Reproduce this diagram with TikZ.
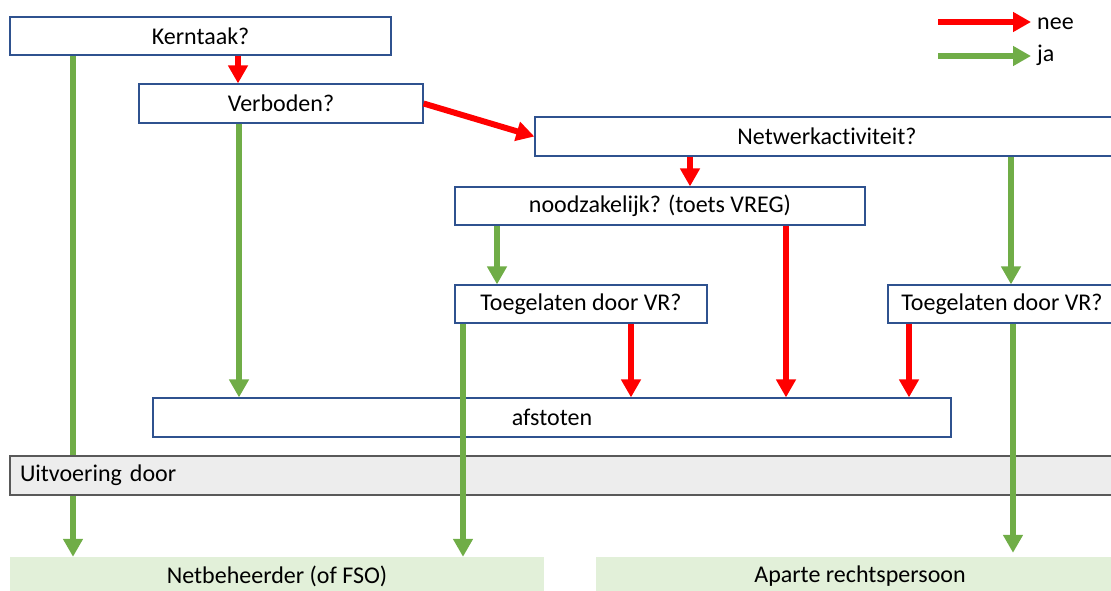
\documentclass[tikz,border=0pt]{standalone}
\usepackage{fontspec}
\setmainfont{Carlito}[Ligatures=NoCommon]
\usetikzlibrary{arrows.meta}
\definecolor{neered}{HTML}{FF0000}
\definecolor{jagreen}{HTML}{70AD47}
\definecolor{boxblue}{HTML}{2F528F}
\definecolor{bargray}{HTML}{EDEDED}
\definecolor{bardraw}{HTML}{595959}
\definecolor{outfill}{HTML}{E2F0D9}

\begin{document}
\begin{tikzpicture}[x=1pt,y=-1pt,
    font=\fontsize{24}{28}\selectfont,
    vraag/.style={draw=boxblue,line width=1.2pt,fill=white,inner sep=0pt},
    uitv/.style={draw=bardraw,line width=1.2pt,fill=bargray,inner sep=0pt},
    uitkomst/.style={fill=outfill,inner sep=0pt},
    nee/.style={neered,line width=6pt,-{Triangle[length=18pt,width=19pt]}},
    ja/.style={jagreen,line width=6pt,-{Triangle[length=18pt,width=19pt]}}]
    \clip (0,0) rectangle (1111,590);

    \node[vraag,minimum width=381pt,minimum height=38pt] (kern) at (200.5,36) {Kerntaak?};
    \node[vraag,minimum width=284pt,minimum height=39pt] (verb) at (281,103.5) {Verboden?};
    \node[vraag,minimum width=584pt,minimum height=39pt] (netw) at (827,136.5) {Netwerkactiviteit?};
    \node[vraag,minimum width=410pt,minimum height=38pt] (nood) at (660,206) {noodzakelijk? (toets VREG)};
    \node[vraag,minimum width=252pt,minimum height=38pt] (toega) at (581,304) {Toegelaten door VR?};
    \node[vraag,minimum width=228pt,minimum height=38pt] (toegb) at (1002,304) {Toegelaten door VR?};
    \node[vraag,minimum width=798pt,minimum height=39pt] (afst) at (552,417.5) {afstoten};
    \node[uitkomst,minimum width=534pt,minimum height=39pt] (netb) at (277,576.5) {Netbeheerder (of FSO)};
    \node[uitkomst,minimum width=528pt,minimum height=39pt] (apart) at (860,576.5) {Aparte rechtspersoon};

    \draw[ja] (73,0 |- kern.south) -- (73,0 |- netb.north);
    \node[uitv,minimum width=1106pt,minimum height=39pt,text width=1086pt,align=left] (uitv) at (563,475.5) {Uitvoering door};

    \draw[nee] (238,0 |- kern.south) -- (238,0 |- verb.north);
    \draw[nee] (verb.east) -- (netw.west);
    \draw[ja] (239,0 |- verb.south) -- (239,0 |- afst.north);
    \draw[nee] (690,0 |- netw.south) -- (690,0 |- nood.north);
    \draw[ja] (1011,0 |- netw.south) -- (1011,0 |- toegb.north);
    \draw[ja] (497,0 |- nood.south) -- (497,0 |- toega.north);
    \draw[nee] (786,0 |- nood.south) -- (786,0 |- afst.north);
    \draw[nee] (631,0 |- toega.south) -- (631,0 |- afst.north);
    \draw[nee] (909,0 |- toegb.south) -- (909,0 |- afst.north);
    \draw[ja] (463,0 |- toega.south) -- (463,0 |- netb.north);
    \draw[ja] (1013,0 |- toegb.south) -- ([yshift=4pt]1013,0 |- apart.north);

    \node[inner sep=0pt,anchor=west] (neetxt) at (1037,24) {nee};
    \node[inner sep=0pt,anchor=west] (jatxt) at (1037,55) {ja};
    \coordinate (neebegin) at (938,22);
    \coordinate (jabegin) at (938,56);
    \draw[nee] (neebegin) -- (1031,0 |- neebegin);
    \draw[ja] (jabegin) -- (1031,0 |- jabegin);
\end{tikzpicture}
\end{document}
